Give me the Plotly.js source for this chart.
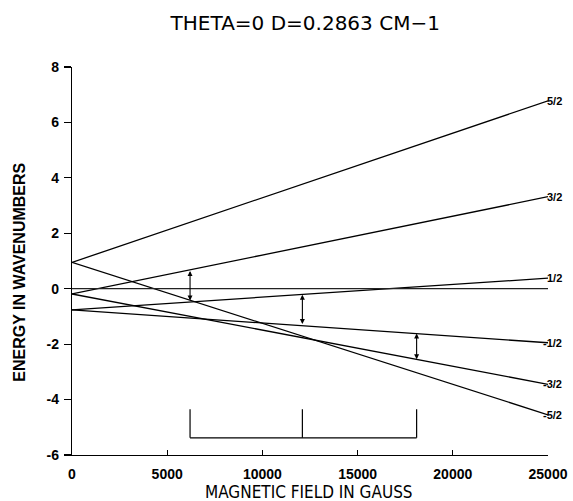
<!DOCTYPE html>
<html>
<head>
<meta charset="utf-8">
<script src="https://cdn.plot.ly/plotly-3.0.1.min.js"></script>
<style>html,body{margin:0;padding:0;background:#fff;}#chart{width:573px;height:501px;}</style>
</head>
<body>
<div id="chart"></div>
<script>
// Field endpoints (gauss)
const fieldB = [0, 25000];
// Energy levels (wavenumbers) at B = 0 and B = 25000
const levelNames = ["5/2", "3/2", "1/2", "-1/2", "-3/2", "-5/2"];
const levelE = [
  [0.95, 6.78],
  [-0.19, 3.32],
  [-0.76, 0.38],
  [-0.76, -1.95],
  [-0.19, -3.45],
  [0.95, -4.55]
];
const zeroLine = [0, 0];
// Transition arrows
const arrowB = [6200, 12100, 18100];
const arrowTop = [0.64, -0.22, -1.62];
const arrowBottom = [-0.48, -1.33, -2.6];
// Bracket (field positions and energy extents)
const bracketB = [6200, 12100, 18100];
const bracketTop = -4.35;
const bracketBottom = -5.38;
const xTicks = [0, 5000, 10000, 15000, 20000, 25000];
const yTicks = [-6, -4, -2, 0, 2, 4, 6, 8];

const lineStyle = {color: "#000", width: 1.3};
const traces = levelE.map((e, i) => ({
  x: fieldB, y: e, mode: "lines", line: lineStyle, name: levelNames[i],
  hoverinfo: "skip", showlegend: false
}));
traces.push({x: fieldB, y: zeroLine, mode: "lines", line: {color: "#222", width: 1.2},
  showlegend: false, hoverinfo: "skip"});
// bracket
const bx = [], by = [];
bracketB.forEach(b => { bx.push(b, b, null); by.push(bracketTop, bracketBottom, null); });
bx.push(bracketB[0], bracketB[bracketB.length - 1]);
by.push(bracketBottom, bracketBottom);
traces.push({x: bx, y: by, mode: "lines", line: {color: "#000", width: 1.2},
  showlegend: false, hoverinfo: "skip", connectgaps: false});

const font = "Liberation Sans, Arial, sans-serif";
const narrow = "DejaVu Sans Condensed, Liberation Sans Narrow, Arial Narrow, sans-serif";
const titleFont = "DejaVu Sans, sans-serif";
const annotations = [];
arrowB.forEach((b, i) => {
  annotations.push({
    x: b, y: arrowTop[i], ax: b, ay: arrowBottom[i], xref: "x", yref: "y", axref: "x", ayref: "y",
    text: "", showarrow: true, arrowside: "end+start", arrowhead: 2, arrowsize: 0.9,
    arrowwidth: 1.1, arrowcolor: "#000", standoff: 0, startstandoff: 0
  });
});
levelNames.forEach((n, i) => {
  annotations.push({
    x: 1.033, xref: "paper", y: levelE[i][1], yref: "y", xanchor: "right", yanchor: "middle",
    text: n, showarrow: false, font: {family: font, size: 11, color: "#000", weight: "bold"}
  });
});
annotations.push({
  x: -0.109, xref: "paper", y: 0.47, yref: "paper", textangle: -90, xanchor: "center", yanchor: "middle",
  text: "ENERGY IN WAVENUMBERS", showarrow: false,
  font: {family: font, size: 16, color: "#000", weight: "bold"}
});
annotations.push({
  x: 0.498, xref: "paper", y: -0.095, yref: "paper", xanchor: "center", yanchor: "middle",
  text: "MAGNETIC FIELD IN GAUSS", showarrow: false,
  font: {family: narrow, size: 17, color: "#000"}
});

const layout = {
  width: 573, height: 501,
  margin: {l: 72, r: 25, t: 67, b: 46},
  paper_bgcolor: "#fff", plot_bgcolor: "#fff",
  title: {text: "THETA=0 D=0.2863 CM\u22121", x: 0.49, xanchor: "center", xref: "paper",
    y: 1 - 23 / 501, yref: "container", yanchor: "middle",
    font: {family: titleFont, size: 20, color: "#000"}},
  xaxis: {range: [0, 25000], tickvals: xTicks, ticktext: xTicks.map(String),
    showgrid: false, zeroline: false, showline: true, linecolor: "#000", linewidth: 1.2,
    ticks: "inside", ticklen: 5, tickcolor: "#000", tickwidth: 1.2, ticklabelstandoff: 6,
    tickfont: {family: font, size: 14, color: "#000", weight: "bold"}},
  yaxis: {range: [-6, 8], tickvals: yTicks, ticktext: yTicks.map(v => v < 0 ? "-" + (-v) : String(v)),
    showgrid: false, zeroline: false, showline: true, linecolor: "#000", linewidth: 1.2,
    ticks: "outside", ticklen: 7, tickcolor: "#000", tickwidth: 1.2, ticklabelstandoff: 2,
    tickfont: {family: font, size: 14, color: "#000", weight: "bold"}},
  annotations: annotations,
  showlegend: false
};
Plotly.newPlot("chart", traces, layout, {staticPlot: true, displayModeBar: false});
</script>
</body>
</html>
